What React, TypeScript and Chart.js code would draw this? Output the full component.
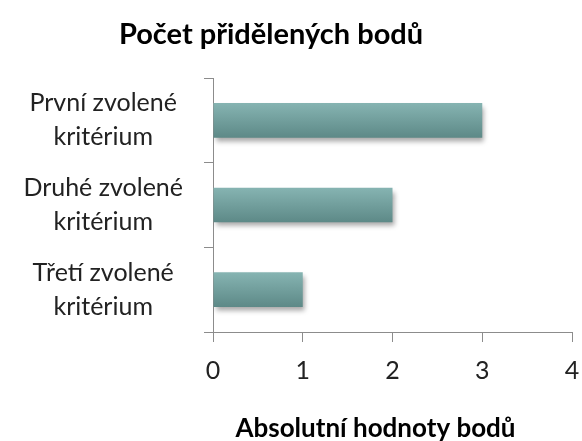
import React, { useEffect, useRef } from "react";
import { Chart, registerables } from "chart.js";

Chart.register(...registerables);

const chartTitle = "Počet přidělených bodů";
const axisTitle = "Absolutní hodnoty bodů";
const categories: string[][] = [
  ["První zvolené", "kritérium"],
  ["Druhé zvolené", "kritérium"],
  ["Třetí zvolené", "kritérium"],
];
const values: number[] = [3, 2, 1];
const xTicks: number[] = [0, 1, 2, 3, 4];

const FONT = "Lato, 'Open Sans', sans-serif";
const BAR_PCT = 0.41;

export default function App() {
  const ref = useRef<HTMLCanvasElement | null>(null);

  useEffect(() => {
    if (!ref.current) return;

    const shadowPlugin = {
      id: "barShadow",
      beforeDatasetsDraw(chart: any) {
        const c = chart.ctx;
        c.save();
        c.shadowColor = "rgba(0,0,0,0.35)";
        c.shadowBlur = 5;
        c.shadowOffsetX = 2;
        c.shadowOffsetY = 4;
      },
      afterDatasetsDraw(chart: any) {
        chart.ctx.restore();
      },
    };

    const titlePlugin = {
      id: "titles",
      afterDraw(chart: any) {
        const c = chart.ctx;
        const area = chart.chartArea;
        c.save();
        c.fillStyle = "#000";
        c.textAlign = "center";
        c.textBaseline = "middle";
        c.font = `bold 29px ${FONT}`;
        c.fillText(chartTitle, area.left + 58, area.top - 43);
        c.font = `bold 26px ${FONT}`;
        c.fillText(axisTitle, (area.left + area.right) / 2 - 17, area.bottom + 97);
        c.restore();
      },
    };

    const chart = new Chart(ref.current, {
      type: "bar",
      data: {
        labels: categories,
        datasets: [
          {
            data: values,
            backgroundColor: (ctx: any) => {
              const ch = ctx.chart;
              const y = ch.scales && ch.scales.y;
              if (!y || !ch.chartArea) return "#75a1a0";
              const center = y.getPixelForValue(ctx.dataIndex);
              const half = (y.height / categories.length) * BAR_PCT / 2;
              const g = ch.ctx.createLinearGradient(0, center - half, 0, center + half);
              g.addColorStop(0, "#86b4b2");
              g.addColorStop(1, "#5d8987");
              return g;
            },
            borderWidth: 0,
            categoryPercentage: 1,
            barPercentage: BAR_PCT,
          },
        ],
      },
      options: {
        indexAxis: "y",
        responsive: false,
        animation: false,
        layout: { padding: { top: 78, right: 10, left: 0, bottom: 0 } },
        plugins: {
          legend: { display: false },
          title: { display: false },
          tooltip: { enabled: false },
        },
        scales: {
          x: {
            min: 0,
            max: 4,
            afterBuildTicks(scale: any) {
              scale.ticks = xTicks.map((v) => ({ value: v }));
            },
            afterFit(scale: any) {
              scale.height = 109;
              scale.paddingLeft = 0;
              scale.paddingRight = 0;
            },
            border: { display: true, color: "#8c8c8c", width: 1 },
            grid: {
              display: true,
              drawOnChartArea: false,
              drawTicks: true,
              tickLength: 10,
              color: "#8c8c8c",
            },
            ticks: {
              color: "#222",
              padding: 14,
              font: { family: FONT, size: 25 },
              maxRotation: 0,
            },
          },
          y: {
            afterFit(scale: any) {
              scale.width = 213;
              scale.paddingTop = 0;
              scale.paddingBottom = 0;
            },
            border: { display: true, color: "#8c8c8c", width: 1 },
            grid: {
              display: true,
              offset: true,
              drawOnChartArea: false,
              drawTicks: true,
              tickLength: 9,
              color: "#8c8c8c",
            },
            ticks: {
              color: "#222",
              crossAlign: "center",
              padding: 21,
              font: { family: FONT, size: 25, lineHeight: 1.36 },
            },
          },
        },
      },
      plugins: [shadowPlugin, titlePlugin],
    } as any);

    return () => chart.destroy();
  }, []);

  return (
    <div style={{ position: "fixed", left: 0, top: 0, width: 582, height: 441, background: "#fff" }}>
      <canvas ref={ref} width={582} height={441} />
    </div>
  );
}
